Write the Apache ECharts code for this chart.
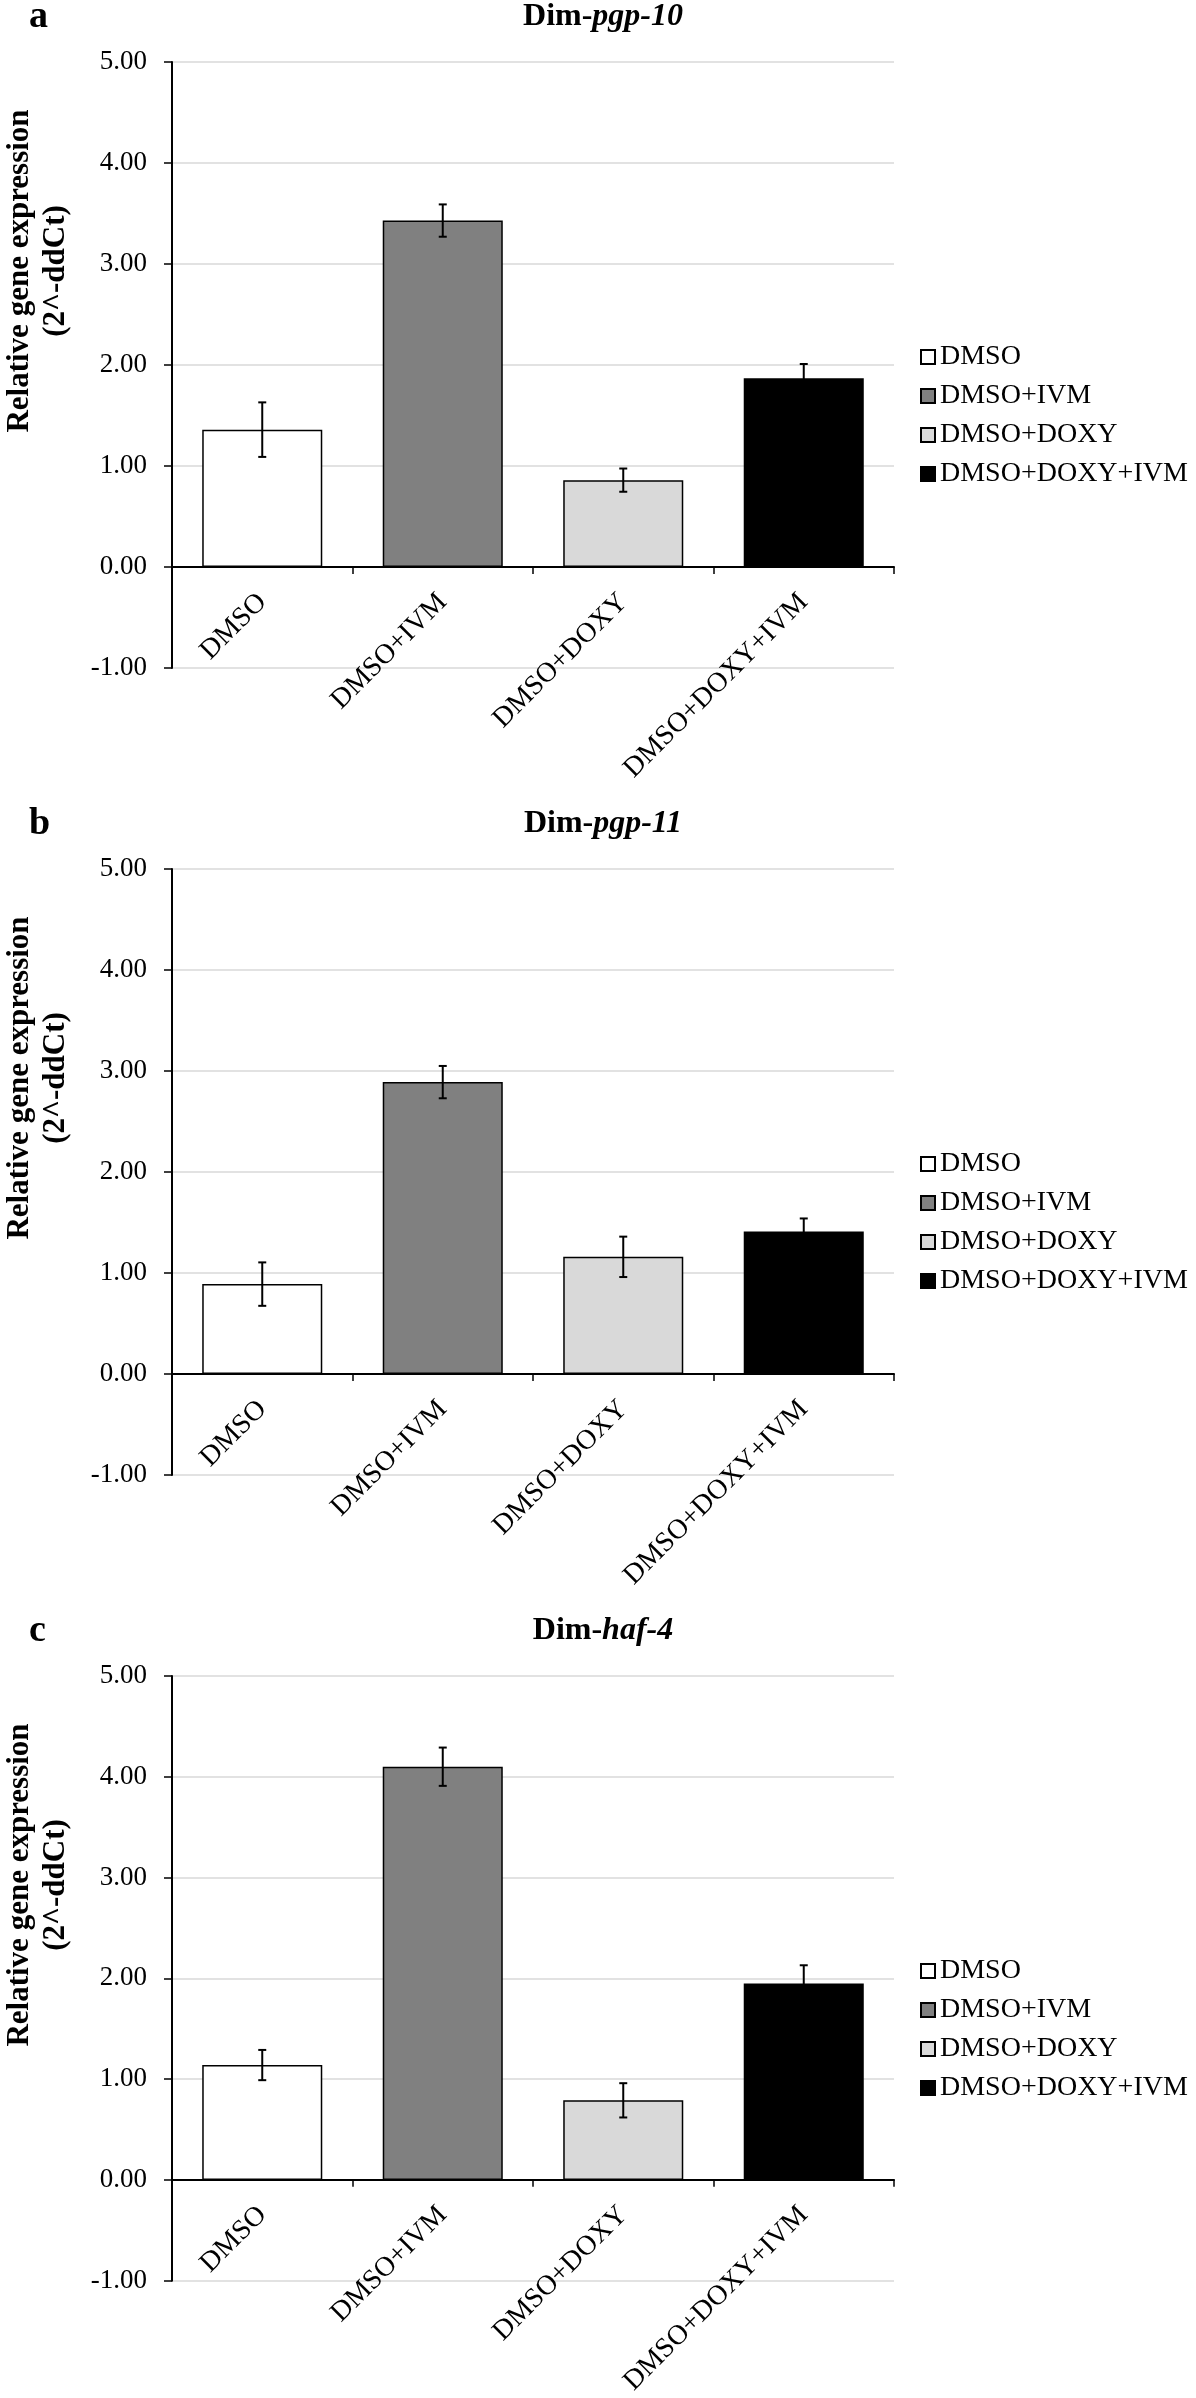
<!DOCTYPE html>
<html>
<head>
<meta charset="utf-8">
<script src="https://cdn.jsdelivr.net/npm/echarts@6/dist/echarts.min.js"></script>
<style>
  html, body { margin: 0; padding: 0; background: #fff; }
  #chart { width: 1196px; height: 2398px; }
</style>
</head>
<body>
<div id="chart"></div>
<script>
// ---- data ----
const categories = ['DMSO', 'DMSO+IVM', 'DMSO+DOXY', 'DMSO+DOXY+IVM'];
const panelLetters = ['a', 'b', 'c'];
const genePrefix = 'Dim-';
const geneNames = ['pgp-10', 'pgp-11', 'haf-4'];
const pgp10Means = [1.36, 3.43, 0.86, 1.87];
const pgp10Errors = [0.27, 0.16, 0.115, 0.14];
const pgp11Means = [0.89, 2.89, 1.16, 1.41];
const pgp11Errors = [0.215, 0.16, 0.20, 0.13];
const haf4Means = [1.14, 4.10, 0.79, 1.95];
const haf4Errors = [0.15, 0.19, 0.17, 0.18];
const yAxisTitleLines = ['Relative gene expression', '(2^-ddCt)'];
const yMin = -1, yMax = 5, yStep = 1;

const panelMeans = [pgp10Means, pgp11Means, haf4Means];
const panelErrors = [pgp10Errors, pgp11Errors, haf4Errors];

// ---- styles / layout ----
const FONT = '"Liberation Serif", "Times New Roman", Times, serif';
const barColors = ['#ffffff', '#808080', '#d9d9d9', '#000000'];
const panelOffsets = [0, 807, 1614];
const gridTop = 62, gridHeight = 606, gridLeft = 172, gridWidth = 722;
// move the category axis (line, ticks, labels) up to the value 0
const zeroOffset = -gridHeight * (0 - yMin) / (yMax - yMin);

const grids = [], xAxes = [], yAxes = [], series = [], legends = [], graphics = [];

panelOffsets.forEach((off, p) => {
  grids.push({ left: gridLeft, top: gridTop + off, width: gridWidth, height: gridHeight, containLabel: false });
  xAxes.push({
    type: 'category', gridIndex: p, data: categories, position: 'bottom', offset: zeroOffset,
    axisLine: { onZero: false, lineStyle: { color: '#000', width: 2 } },
    axisTick: { show: true, inside: false, length: 7, lineStyle: { color: '#000', width: 1.5 } },
    axisLabel: { rotate: 45, margin: 31, fontSize: 28, fontFamily: FONT, color: '#000', interval: 0 },
    splitLine: { show: false }
  });
  yAxes.push({
    type: 'value', gridIndex: p, min: yMin, max: yMax, interval: yStep,
    axisLine: { show: true, lineStyle: { color: '#000', width: 2 } },
    axisTick: { show: true, length: 8, lineStyle: { color: '#000', width: 1.5 } },
    axisLabel: { margin: 25, fontSize: 27, fontFamily: FONT, color: '#000', formatter: v => v.toFixed(2) },
    splitLine: { show: true, lineStyle: { color: '#d9d9d9', width: 1.5 } }
  });
  const means = panelMeans[p];
  const errs = panelErrors[p];
  categories.forEach((cat, k) => {
    series.push({
      type: 'bar', name: cat, xAxisIndex: p, yAxisIndex: p,
      barGap: '-100%', barCategoryGap: '33.5%',
      data: categories.map((_, j) => (j === k ? means[j] : '-')),
      itemStyle: { color: barColors[k], borderColor: '#000', borderWidth: 1.5 },
      emphasis: { disabled: true },
      z: 2
    });
  });
  series.push({
    type: 'custom', name: 'errors-' + p, xAxisIndex: p, yAxisIndex: p, z: 5,
    data: means.map((m, j) => [j, m, errs[j]]),
    encode: { x: 0, y: 1 },
    renderItem: function (params, api) {
      const x = api.value(0), v = api.value(1), e = api.value(2);
      const top = api.coord([x, v + e]);
      const bot = api.coord([x, v - e]);
      const hw = 4;
      const st = { stroke: '#000', lineWidth: 2 };
      return {
        type: 'group', children: [
          { type: 'line', shape: { x1: top[0], y1: top[1], x2: bot[0], y2: bot[1] }, style: st },
          { type: 'line', shape: { x1: top[0] - hw, y1: top[1], x2: top[0] + hw, y2: top[1] }, style: st },
          { type: 'line', shape: { x1: bot[0] - hw, y1: bot[1], x2: bot[0] + hw, y2: bot[1] }, style: st }
        ]
      };
    }
  });
  legends.push({
    data: categories, orient: 'vertical', left: 920, top: 343 + off, padding: 0,
    icon: 'rect', itemWidth: 14, itemHeight: 14, itemGap: 11, selectedMode: false,
    textStyle: { fontSize: 28, lineHeight: 28, fontFamily: FONT, color: '#000' }
  });
  graphics.push({
    type: 'text', x: 29, y: 17 + off,
    style: { text: panelLetters[p], font: 'bold 38px ' + FONT, fill: '#000', verticalAlign: 'middle', align: 'left' }
  });
  graphics.push({
    type: 'text', x: 603, y: 17 + off,
    style: {
      text: '{b|' + genePrefix + '}{bi|' + geneNames[p] + '}',
      align: 'center', verticalAlign: 'middle',
      rich: {
        b: { fontFamily: FONT, fontWeight: 'bold', fontSize: 32, fill: '#000' },
        bi: { fontFamily: FONT, fontWeight: 'bold', fontStyle: 'italic', fontSize: 32, fill: '#000' }
      }
    }
  });
  yAxisTitleLines.forEach((line, li) => {
    graphics.push({
      type: 'text', x: [20, 56][li], y: 271 + off, rotation: Math.PI / 2,
      style: { text: line, font: 'bold 31px ' + FONT, fill: '#000', align: 'center', verticalAlign: 'middle' }
    });
  });
});

const chart = echarts.init(document.getElementById('chart'), null, { renderer: 'canvas' });
chart.setOption({
  animation: false,
  backgroundColor: '#ffffff',
  textStyle: { fontFamily: FONT },
  grid: grids, xAxis: xAxes, yAxis: yAxes, series: series, legend: legends,
  graphic: graphics
});
</script>
</body>
</html>
